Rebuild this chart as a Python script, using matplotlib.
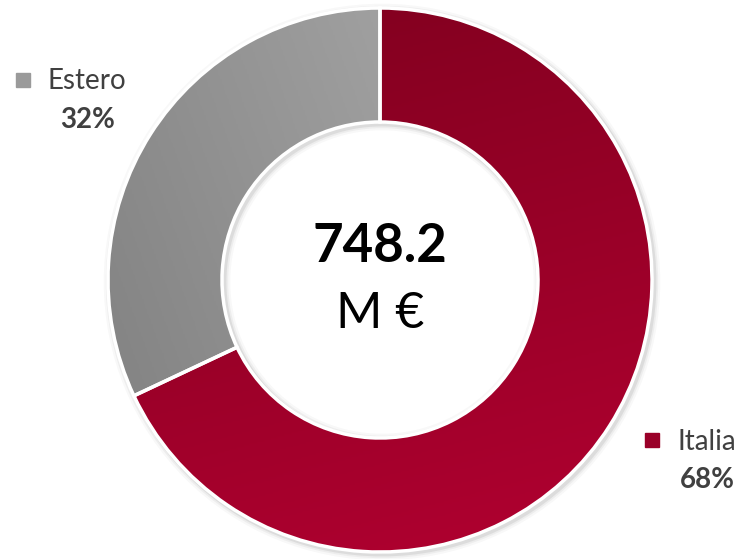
import numpy as np
import matplotlib
matplotlib.use("Agg")
import matplotlib.pyplot as plt
from matplotlib.colors import LinearSegmentedColormap
from matplotlib.patches import Circle, Rectangle, Wedge

plt.rcParams['font.family'] = ['Lato', 'DejaVu Sans']

# ---- data ----
categories = ["Italia", "Estero"]
values = [68, 32]
pct_labels = ["68%", "32%"]
total_value = "748.2"
total_unit = "M €"

# ---- layout (pixel space, y up) ----
W, H = 743, 559
def Y(y):
    return H - y

cx, cy = 380, Y(280)
R_out, R_in = 272, 158

fig = plt.figure(figsize=(W / 100, H / 100), dpi=100)
ax = fig.add_axes([0, 0, 1, 1])

# soft shadow around ring
for r in (R_out, R_in):
    for lw, a in [(9, 0.04), (6, 0.06), (3.5, 0.10)]:
        ax.add_patch(Circle((cx + 2, cy - 2), r, fill=False, lw=lw,
                            ec=(0.3, 0.3, 0.3, a), zorder=1))

wedges, _ = ax.pie(values, startangle=90, counterclock=False,
                   radius=R_out, center=(cx, cy),
                   wedgeprops=dict(width=R_out - R_in, edgecolor='none',
                                   linewidth=0),
                   colors=['none', 'none'])
for w in wedges:
    w.set_zorder(3)

grad_colors = {
    "Italia": ("#840020", "#AD002F", np.deg2rad(-75)),
    "Estero": ("#858585", "#adadad", np.deg2rad(20)),
}
n = 300
xs = np.linspace(cx - R_out, cx + R_out, n)
ys = np.linspace(cy - R_out, cy + R_out, n)
XX, YY = np.meshgrid(xs, ys)
for cat, w in zip(categories, wedges):
    c0, c1, ang = grad_colors[cat]
    d = (XX - cx) * np.cos(ang) + (YY - cy) * np.sin(ang)
    t = (d + R_out) / (2 * R_out)
    cmap = LinearSegmentedColormap.from_list(cat, [c0, c1])
    im = ax.imshow(t, extent=(xs[0], xs[-1], ys[0], ys[-1]), origin='lower',
                   cmap=cmap, vmin=0, vmax=1, zorder=2, interpolation='bilinear')
    im.set_clip_path(w)
    ax.add_patch(Wedge(w.center, w.r, w.theta1, w.theta2,
                       width=w.width, fill=False,
                       ec='white', lw=2.5, zorder=4))

# center text
ax.text(cx, Y(246), total_value, ha='center', va='center', fontsize=38,
        fontweight='bold', color='black', zorder=5)
ax.text(cx, Y(314), total_unit, ha='center', va='center', fontsize=36,
        color='black', zorder=5)

# labels
label_pos = {
    "Italia": (645, 433, 677, 442, 680, 480),
    "Estero": (16, 73, 48, 81, 60, 120),
}
sq_colors = {"Italia": "#9A0028", "Estero": "#9a9a9a"}
for cat, pct in zip(categories, pct_labels):
    sx, sy, tx, ty, px, pyy = label_pos[cat]
    ax.add_patch(Rectangle((sx, Y(sy + 14)), 14, 14, color=sq_colors[cat], zorder=5))
    ax.text(tx, Y(ty), cat, ha='left', va='center', fontsize=20,
            color='#404040', zorder=5)
    ax.text(px, Y(pyy), pct, ha='left', va='center', fontsize=20,
            fontweight='bold', color='#404040', zorder=5)

ax.set_xlim(0, W)
ax.set_ylim(0, H)
ax.set_aspect('auto')
ax.axis('off')
fig.savefig("out.png", dpi=100, facecolor='white')
